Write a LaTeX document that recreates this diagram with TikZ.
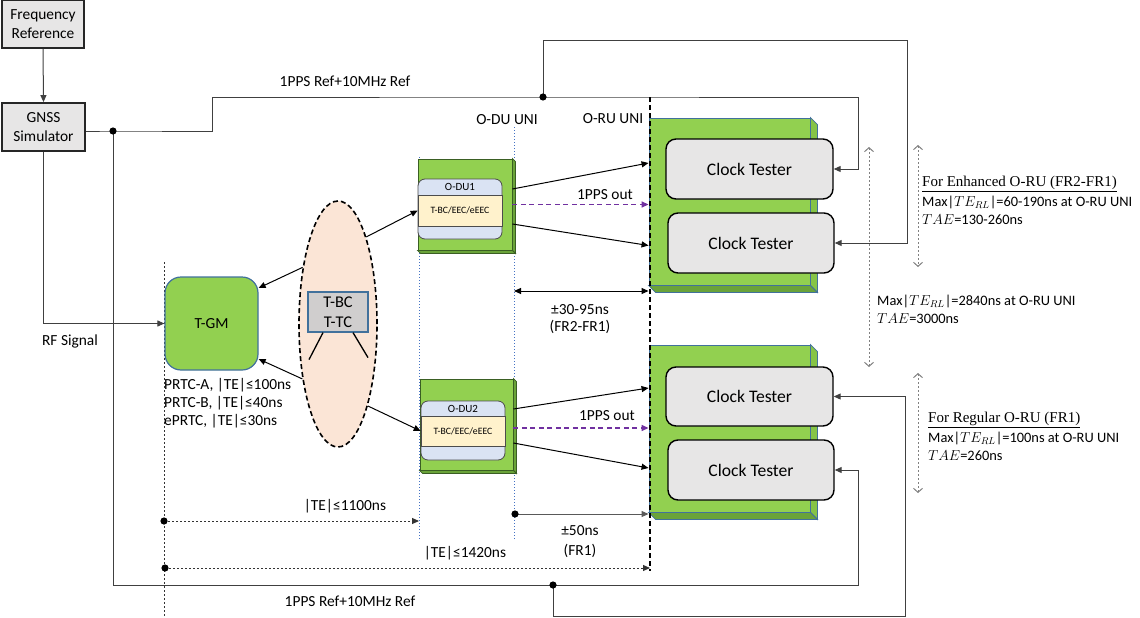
\documentclass[tikz,border=0pt]{standalone}
\usepackage{fontspec}
\setmainfont{Carlito}
\newfontfamily\headfont{Liberation Serif}
\usetikzlibrary{arrows.meta,calc,shapes.geometric}

\definecolor{lgreen}{HTML}{92D050}
\definecolor{sidegreen}{HTML}{86C446}
\definecolor{botgreen}{HTML}{6AA339}
\definecolor{bord}{HTML}{41719C}
\definecolor{dugreenline}{HTML}{3A5F23}
\definecolor{ctgray}{HTML}{E7E6E6}
\definecolor{peach}{HTML}{FBE5D6}
\definecolor{tbcgray}{HTML}{D0CECE}
\definecolor{bandblue}{HTML}{DAE3F3}
\definecolor{bandyel}{HTML}{FFF2CC}
\definecolor{purp}{HTML}{7030A0}
\definecolor{wirec}{HTML}{404040}
\definecolor{unib}{HTML}{4472C4}

% side and bottom faces of a raised box: node, depth, side colour, bottom colour, edge colour
\newcommand{\raisedfaces}[5]{%
  \filldraw[draw=#5, line width=0.8pt, fill=#3] (#1.north east) -- ($(#1.north east)+(#2,#2)$) -- ($(#1.south east)+(#2,#2)$) -- (#1.south east) -- cycle;
  \filldraw[draw=#5, line width=0.8pt, fill=#4] (#1.south west) -- (#1.south east) -- ($(#1.south east)+(#2,#2)$) -- ($(#1.south west)+(#2,#2)$) -- cycle;}

\begin{document}
\begin{tikzpicture}[x=1pt,y=-1pt,
  every node/.style={font=\fontsize{15.4}{18.5}\selectfont, inner sep=0pt, text=black},
  wire/.style={draw=wirec, line width=1pt},
  arr/.style={wire, -{Triangle[length=7pt,width=6pt]}},
  greybox/.style={draw=black!85, line width=1.8pt, fill=ctgray, align=center},
  tester/.style={draw=black, line width=1.4pt, fill=ctgray, rounded corners=10pt, font=\fontsize{17.6}{20}\selectfont},
  orubox/.style={draw=bord, line width=0.9pt, fill=lgreen},
  dubox/.style={draw=dugreenline, line width=0.9pt, fill=lgreen},
  duinner/.style={draw=black!70, line width=0.8pt, fill=bandblue, rounded corners=7pt, minimum width=84pt},
  dumid/.style={draw=black!70, line width=0.6pt, fill=bandyel, minimum width=84pt, font=\fontsize{9.7}{11}\selectfont},
  dulabel/.style={font=\fontsize{11}{12}\selectfont},
  pps/.style={draw=purp, line width=1.5pt, dash pattern=on 5pt off 3.5pt, -{Triangle[length=7pt,width=6pt]}},
  unidot/.style={draw=unib, line width=0.8pt, dash pattern=on 1pt off 2pt},
  dotdim/.style={draw=black!80, line width=1pt, dash pattern=on 2pt off 2pt, -{Triangle[length=7pt,width=6pt]}},
  rangearrow/.style={draw=gray, line width=1pt, dash pattern=on 2pt off 2pt, {Straight Barb[length=4pt,width=9pt]}-{Straight Barb[length=4pt,width=9pt]}},
  note/.style={anchor=west, align=left, font=\fontsize{14.4}{17}\selectfont},
  dot/.style={fill=black}
]
\useasboundingbox (0,0) rectangle (1140,618);

% interface reference lines
\coordinate (duLt) at (419,157);
\coordinate (duLb) at (419,540);
\coordinate (duRt) at (514,127);
\coordinate (duRb) at (514,540);
\coordinate (ruT) at (650,97);
\coordinate (ruB) at (650,571);
\coordinate (gmT) at (164,262);
\coordinate (gmB) at (164,618);
\draw[unidot] (duLt) -- (duLb);
\draw[unidot] (duRt) -- (duRb);
\draw[black!80, line width=1pt, dash pattern=on 2pt off 2pt] (gmT) -- (gmB);

% reference sources
\node[greybox, minimum width=82pt, minimum height=48pt] (freq) at (43,24) {Frequency\\Reference};
\node[greybox, minimum width=83pt, minimum height=48pt] (gnss) at (43.5,127) {GNSS\\Simulator};

% grandmaster and network cloud
\node[draw=bord, line width=1.2pt, fill=lgreen, rounded corners=16pt, minimum width=93pt, minimum height=93pt] (tgm) at (211.5,323.5) {T-GM};
\node[ellipse, draw=black, line width=1.6pt, dash pattern=on 5pt off 3pt, fill=peach, minimum width=78pt, minimum height=246pt] (ell) at (338,324) {};
\node[draw=bord, line width=1.2pt, fill=tbcgray, minimum width=60pt, minimum height=40pt, align=center, font=\fontsize{16.4}{20}\selectfont] (tbc) at (338,312) {T-BC\\T-TC};
\draw[black, line width=1.3pt] ($(tbc.south)+(-15,0)$) -- ++(-14,27);
\draw[black, line width=1.3pt] ($(tbc.south)+(15,0)$) -- ++(15,25);

% O-DU 1
\node[dubox, minimum width=94pt, minimum height=91pt] (odu1) at (465,204.5) {};
\raisedfaces{odu1}{3}{botgreen}{botgreen}{dugreenline}
\node[duinner, minimum height=60pt] (odu1in) at (460,209) {};
\node[dumid, minimum height=31pt] (odu1mid) at (460,210.5) {T-BC/EEC/eEEC};
\node[dulabel] at (460,187) {O-DU1};

% O-DU 2
\node[dubox, minimum width=93pt, minimum height=91pt] (odu2) at (466.5,424.5) {};
\raisedfaces{odu2}{3}{botgreen}{botgreen}{dugreenline}
\node[duinner, minimum height=59pt] (odu2in) at (463,430.5) {};
\node[dumid, minimum height=30pt] (odu2mid) at (463,431) {T-BC/EEC/eEEC};
\node[dulabel] at (463,408.5) {O-DU2};

% O-RU test units
\node[orubox, minimum width=161pt, minimum height=167pt] (oru1) at (729.5,201.5) {};
\raisedfaces{oru1}{7}{sidegreen}{botgreen}{bord}
\node[tester, minimum width=167pt, minimum height=60pt] (ct1) at (749.5,169) {Clock Tester};
\node[tester, minimum width=166pt, minimum height=60pt] (ct2) at (751,243) {Clock Tester};

\node[orubox, minimum width=161pt, minimum height=167pt] (oru2) at (729.5,428.5) {};
\raisedfaces{oru2}{7}{sidegreen}{botgreen}{bord}
\node[tester, minimum width=167pt, minimum height=59pt] (ct3) at (749.5,396.5) {Clock Tester};
\node[tester, minimum width=166pt, minimum height=60pt] (ct4) at (751,470) {Clock Tester};

% junctions of the reference distribution
\coordinate (j1) at (113,131);
\coordinate (j2) at (543,97);
\coordinate (j3) at (553,585);

% reference wiring
\draw[arr] (freq.south) -- (gnss.north);
\draw[arr] (gnss.south) |- (tgm.west);
\draw[arr] (gnss.east |- j1) -- (j1) -| (212,97) -- (j2) -- (858,97) |- (ct1.east);
\draw[arr] (j2) |- (907,41) |- (ct2.east);
\draw[arr] (j1) |- (858,585) |- (ct4.east);
\draw[arr] (j3) |- (905,616) |- (ct3.east);
\fill[dot] (j1) circle (3.6pt);
\fill[dot] (j2) circle (3.6pt);
\fill[dot] (j3) circle (3.6pt);

% PTP paths through the network
\draw[arr, draw=black] (ell.122) -- (tgm.37);
\draw[arr, draw=black] (ell.237) -- (tgm.-37);
\draw[arr, draw=black] (ell.72) -- (odu1mid.west);
\draw[arr, draw=black] (ell.290) -- (odu2mid.west);

% fronthaul links to the O-RUs
\draw[arr, draw=black] ($(odu1.east)+(0,-15.5)$) -- ($(oru1.west)+(0,-38.5)$);
\draw[pps] (odu1.east) -- (odu1.east -| oru1.west);
\draw[arr, draw=black] ($(odu1.east)+(0,19.5)$) -- ($(oru1.west)+(0,44)$);
\draw[arr, draw=black] ($(odu2.east)+(0,-15.5)$) -- ($(oru2.west)+(0,-40.5)$);
\draw[pps] ($(odu2.east)+(0,3.5)$) -- ($(odu2.east -| oru2.west)+(0,3.5)$);
\draw[arr, draw=black] ($(odu2.east)+(0,18.5)$) -- ($(oru2.west)+(0,39.5)$);

% O-RU UNI reference line
\draw[black, line width=1.3pt, dash pattern=on 5pt off 3pt] (ruT) -- (ruB);

% error budget spans
\coordinate (dA) at (514,291);
\draw[black, line width=1pt, {Triangle[length=7pt,width=6pt]}-{Triangle[length=7pt,width=6pt]}] (dA) -- (dA -| oru1.west);
\coordinate (dB) at (515,514);
\draw[arr, draw=gray!70!black] (dB) -- (dB -| oru2.west);
\fill[dot] (dB) circle (3.6pt);
\coordinate (dC) at (164,521);
\draw[dotdim] (dC) -- (dC -| duLb);
\fill[dot] (dC) circle (3.6pt);
\coordinate (dD) at (165,568);
\draw[dotdim] (dD) -- (dD -| ruB);
\fill[dot] (dD) circle (3.6pt);

\coordinate (rA) at (869,147);
\coordinate (rB) at (869,367);
\coordinate (rC) at (918,145);
\coordinate (rD) at (918,267);
\coordinate (rE) at (918,373);
\coordinate (rF) at (918,493);
\draw[rangearrow] (rA) -- (rB);
\draw[rangearrow] (rC) -- (rD);
\draw[rangearrow] (rE) -- (rF);

% labels
\node at (345,81) {1PPS Ref+10MHz Ref};
\node at (350,601) {1PPS Ref+10MHz Ref};
\node at (507,120) {O-DU UNI};
\node at (613,119) {O-RU UNI};
\node at (70,341) {RF Signal};
\node at (605,195) {1PPS out};
\node at (607,416) {1PPS out};
\node[anchor=west] at (164,385) {PRTC-A, |TE|≤100ns};
\node[anchor=west] at (164,403) {PRTC-B, |TE|≤40ns};
\node[anchor=west] at (164,421) {ePRTC, |TE|≤30ns};
\node at (580,310) {±30-95ns};
\node at (580,327) {(FR2-FR1)};
\node at (580,531) {±50ns};
\node at (580,551) {(FR1)};
\node at (345,506) {|TE|≤1100ns};
\node at (465,553) {|TE|≤1420ns};

\node[note] at (922,184) {\headfont\fontsize{15}{17}\selectfont\underline{For Enhanced O-RU (FR2-FR1)}};
\node[note] at (922,202) {Max|$TE_{RL}$|=60-190ns at O-RU UNI};
\node[note] at (922,220) {$TAE$=130-260ns};
\node[note] at (877,301) {Max|$TE_{RL}$|=2840ns at O-RU UNI};
\node[note] at (877,319) {$TAE$=3000ns};
\node[note] at (928,420) {\headfont\fontsize{15}{17}\selectfont\underline{For Regular O-RU (FR1)}};
\node[note] at (928,438) {Max|$TE_{RL}$|=100ns at O-RU UNI};
\node[note] at (928,456) {$TAE$=260ns};
\end{tikzpicture}
\end{document}
